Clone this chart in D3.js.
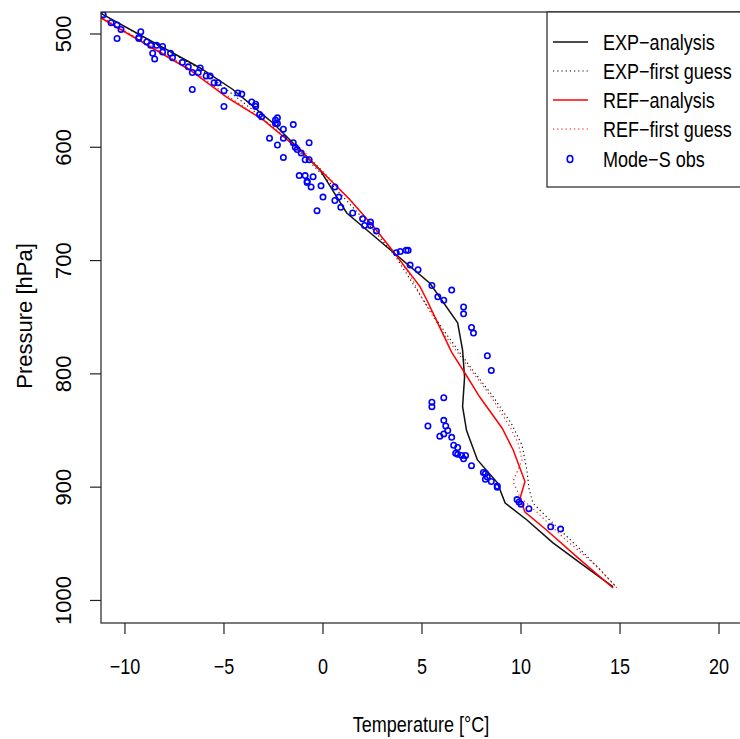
<!DOCTYPE html>
<html>
<head>
<meta charset="utf-8">
<script src="https://cdn.jsdelivr.net/npm/d3@7"></script>
<style>
  body { margin: 0; background: #fff; }
  svg { display: block; }
  text { font-family: "Liberation Sans", Arial, sans-serif; fill: #000; }
</style>
</head>
<body>
<svg id="chart" width="740" height="739"></svg>
<script>
// tick labels
var tempTicks = [-10, -5, 0, 5, 10, 15, 20];
var presTicks = [500, 600, 700, 800, 900, 1000];

// EXP analysis profile
var expAnaP = [475, 483, 530, 549, 579, 600, 620, 658, 692, 720, 755, 779, 803, 829, 850, 876, 896, 914, 929, 949, 967, 988];
var expAnaT = [-11.9, -11.1, -6.2, -4.55, -2.5, -1.3, -0.15, 1.2, 3.5, 5.4, 6.8, 7.05, 7.15, 7.05, 7.25, 7.8, 8.8, 9.2, 10.3, 11.6, 13.0, 14.65];

// EXP first guess profile
var expFgP = [475, 483, 531, 567, 596, 622, 650, 675, 696, 733, 763, 793, 819, 845, 863, 885, 901, 914, 929, 955, 987];
var expFgT = [-11.9, -11.1, -6.2, -3.55, -1.65, -0.15, 1.35, 2.65, 3.65, 5.0, 6.15, 7.4, 8.55, 9.55, 10.05, 10.3, 10.4, 10.6, 11.45, 13.0, 14.75];

// REF analysis profile
var refAnaP = [475, 487, 532, 556, 576, 605, 646, 670, 692, 723, 735, 759, 781, 803, 820, 848, 867, 895, 910, 922, 938, 962, 989];
var refAnaT = [-12.3, -11.1, -6.7, -4.85, -3.0, -1.0, 1.35, 2.55, 3.55, 4.9, 5.25, 5.9, 6.5, 7.3, 7.9, 9.05, 9.6, 10.2, 9.95, 10.2, 11.3, 12.85, 14.65];

// REF first guess profile
var refFgP = [475, 486, 532, 556, 577, 605, 646, 670, 693, 713, 735, 766, 795, 819, 847, 861, 876, 895, 909, 922, 944, 970, 989];
var refFgT = [-12.2, -11.1, -6.6, -4.7, -2.9, -0.9, 1.35, 2.55, 3.6, 4.4, 5.05, 6.15, 7.4, 8.45, 9.45, 9.85, 10.05, 9.6, 9.95, 10.8, 12.1, 13.85, 14.85];

// Mode-S observations
var obsT = [-11.1, -10.7, -10.4, -10.2, -10.4, -9.2, -9.3, -9.3, -8.9, -8.7,
            -8.6, -8.5, -8.4, -8.1, -8.1, -7.7, -7.6, -7.1, -6.8, -6.6,
            -6.3, -6.2, -6.6, -5.9, -5.7, -5.5, -5.3, -5.0, -5.0, -4.3,
            -4.1, -3.6, -3.4, -3.4, -3.2, -3.1, -2.4, -2.3, -2.4, -2.3,
            -1.5, -2.0, -2.7, -2.0, -2.3, -2.0, -1.5, -1.4, -1.3, -1.1,
            -0.7, -0.9, -0.7, -1.2, -0.9, -0.8, -0.8, -0.5, -0.6, -0.1,
            0.6, 0.0, 0.6, 0.8, 0.9, -0.3, 1.5, 2.0, 2.4, 2.1,
            2.4, 2.7, 3.7, 3.9, 4.2, 4.3, 4.4, 4.8, 5.5, 6.5,
            5.8, 6.1, 7.1, 7.1, 7.5, 7.6, 8.3, 8.5, 5.5, 5.5,
            6.1, 5.3, 6.1, 6.2, 6.3, 5.9, 6.1, 6.5, 6.6, 6.8,
            6.7, 6.8, 7.0, 7.2, 7.1, 7.5, 8.1, 8.2, 8.2, 8.3,
            8.5, 8.8, 8.8, 9.8, 9.9, 10.0, 10.4, 11.5, 12.0];
var obsP = [483, 490, 492, 496, 504, 498, 503, 504, 507, 510,
            517, 522, 510, 511, 516, 517, 521, 525, 529, 534,
            534, 530, 549, 537, 537, 543, 543, 550, 564, 552,
            553, 560, 562, 564, 571, 573, 576, 574, 579, 579,
            580, 584, 592, 592, 598, 609, 596, 600, 602, 605,
            596, 611, 611, 625, 625, 630, 631, 626, 635, 634,
            635, 644, 647, 644, 653, 656, 658, 663, 666, 669,
            669, 674, 693, 692, 691, 691, 704, 708, 722, 726,
            732, 735, 741, 747, 759, 764, 784, 797, 825, 829,
            821, 846, 841, 846, 850, 855, 853, 856, 863, 865,
            870, 871, 872, 872, 875, 881, 887, 888, 893, 891,
            895, 899, 900, 911, 913, 915, 919, 935, 937];

var legendLabels = ["EXP\u2212analysis", "EXP\u2212first guess", "REF\u2212analysis", "REF\u2212first guess", "Mode\u2212S obs"];

var svg = d3.select("#chart");
var plotL = 101, plotT = 12, plotR = 742, plotB = 623;
var narrow = 0.82;

var x = d3.scaleLinear().domain([-11.21, 21.16]).range([plotL, plotR]);
var y = d3.scaleLinear().domain([480.6, 1019.9]).range([plotT, plotB]);

// horizontal text is drawn a bit condensed, like the reference
function hText(g, px, py, str, anchor) {
  g.append("g")
    .attr("transform", "translate(" + px + "," + py + ") scale(" + narrow + ",1)")
    .append("text")
    .attr("text-anchor", anchor)
    .style("font-size", "22px")
    .text(str);
}

svg.append("clipPath").attr("id", "plotclip")
  .append("rect").attr("x", plotL).attr("y", plotT)
  .attr("width", plotR - plotL).attr("height", plotB - plotT);

var plot = svg.append("g").attr("clip-path", "url(#plotclip)");

var line = d3.line()
  .x(function (d) { return x(d[1]); })
  .y(function (d) { return y(d[0]); });

var profiles = [
  { p: expFgP, t: expFgT, color: "#000", width: 1.1, dash: "1.2,3" },
  { p: refFgP, t: refFgT, color: "#ff0000", width: 1.1, dash: "1.2,3" },
  { p: expAnaP, t: expAnaT, color: "#111", width: 1.5, dash: null },
  { p: refAnaP, t: refAnaT, color: "#ff0000", width: 1.5, dash: null }
];

profiles.forEach(function (pr) {
  plot.append("path")
    .datum(d3.zip(pr.p, pr.t))
    .attr("d", line)
    .attr("fill", "none")
    .attr("stroke", pr.color)
    .attr("stroke-width", pr.width)
    .attr("stroke-dasharray", pr.dash);
});

plot.selectAll("circle.obs")
  .data(d3.zip(obsT, obsP))
  .enter().append("circle")
  .attr("class", "obs")
  .attr("cx", function (d) { return x(d[0]); })
  .attr("cy", function (d) { return y(d[1]); })
  .attr("r", 2.7)
  .attr("fill", "none")
  .attr("stroke", "#0000ff")
  .attr("stroke-width", 1.6);

// frame
svg.append("rect")
  .attr("x", plotL).attr("y", plotT)
  .attr("width", plotR - plotL).attr("height", plotB - plotT)
  .attr("fill", "none").attr("stroke", "#222").attr("stroke-width", 1.2);

// x axis
var xAxis = svg.append("g");
tempTicks.forEach(function (t) {
  xAxis.append("line")
    .attr("x1", x(t)).attr("x2", x(t))
    .attr("y1", plotB).attr("y2", plotB + 11)
    .attr("stroke", "#222").attr("stroke-width", 1.2);
  hText(xAxis, x(t), 674, t < 0 ? "\u2212" + Math.abs(t) : String(t), "middle");
});
hText(svg, 421, 732, "Temperature [\u00B0C]", "middle");

// y axis
var yAxis = svg.append("g");
presTicks.forEach(function (p) {
  yAxis.append("line")
    .attr("x1", plotL).attr("x2", plotL - 11)
    .attr("y1", y(p)).attr("y2", y(p))
    .attr("stroke", "#222").attr("stroke-width", 1.2);
  yAxis.append("text")
    .attr("transform", "translate(71," + y(p) + ") rotate(-90)")
    .attr("text-anchor", "middle")
    .style("font-size", "22px")
    .text(p);
});
svg.append("text")
  .attr("transform", "translate(32,316) rotate(-90)")
  .attr("text-anchor", "middle")
  .style("font-size", "22px")
  .text("Pressure [hPa]");

// legend
var lg = svg.append("g");
lg.append("rect")
  .attr("x", 547).attr("y", 12).attr("width", 200).attr("height", 175)
  .attr("fill", "#fff").attr("stroke", "#222").attr("stroke-width", 1.2);
var rowY = [42, 71, 100, 129, 159];
var legendStyles = [
  { color: "#111", dash: null, width: 1.5 },
  { color: "#000", dash: "1.2,3", width: 1.1 },
  { color: "#ff0000", dash: null, width: 1.5 },
  { color: "#ff0000", dash: "1.2,3", width: 1.1 }
];
legendLabels.forEach(function (lab, i) {
  if (i < 4) {
    lg.append("line")
      .attr("x1", 553).attr("x2", 588)
      .attr("y1", rowY[i]).attr("y2", rowY[i])
      .attr("stroke", legendStyles[i].color)
      .attr("stroke-width", legendStyles[i].width)
      .attr("stroke-dasharray", legendStyles[i].dash);
  } else {
    lg.append("ellipse")
      .attr("cx", 570).attr("cy", rowY[i]).attr("rx", 2.8).attr("ry", 3.5)
      .attr("fill", "none").attr("stroke", "#0000ff").attr("stroke-width", 1.6);
  }
  hText(lg, 603, rowY[i] + 8, lab, "start");
});
</script>
</body>
</html>
